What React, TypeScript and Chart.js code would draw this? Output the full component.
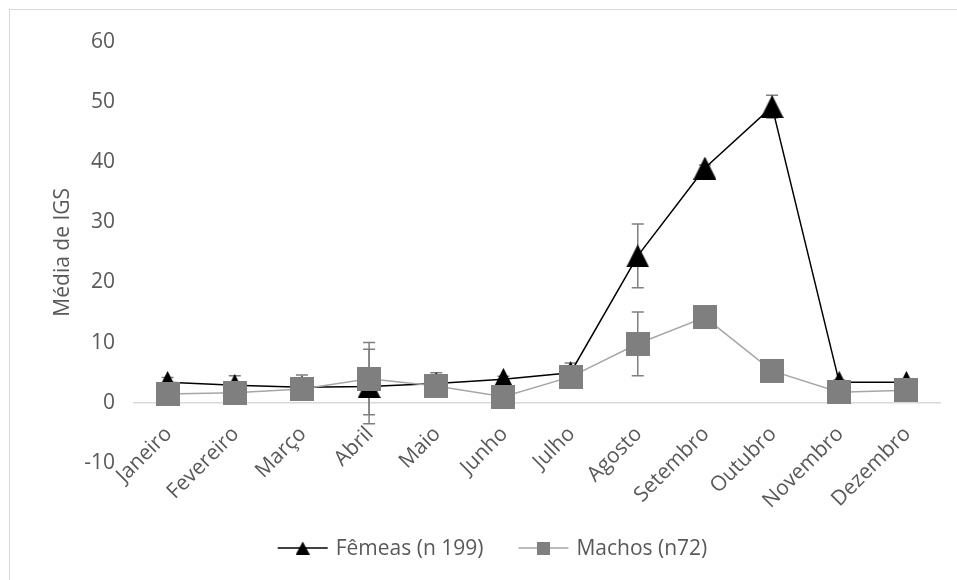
import React, { useEffect, useRef } from 'react';
import { Chart, registerables } from 'chart.js';

Chart.register(...registerables);

const months = ['Janeiro', 'Fevereiro', 'Março', 'Abril', 'Maio', 'Junho', 'Julho', 'Agosto', 'Setembro', 'Outubro', 'Novembro', 'Dezembro'];
const femeas = [3.4, 2.9, 2.6, 2.7, 3.2, 3.9, 5.0, 24.4, 39.0, 49.2, 3.4, 3.4];
const femeasErr = [0.8, 1.6, 2.0, 6.2, 1.8, 0.5, 1.6, 5.3, 0.5, 1.9, 0.4, 0.4];
const machos = [1.45, 1.65, 2.3, 4.0, 2.8, 1.0, 4.3, 9.8, 14.2, 5.3, 1.75, 2.1];
const machosErr = [0.5, 0.5, 0.5, 6.0, 0.5, 0.3, 0.5, 5.3, 0.5, 1.8, 0.3, 0.3];
const femeasLabel = 'Fêmeas (n 199)';
const machosLabel = 'Machos (n72)';
const yTitle = 'Média de IGS';
const yMin = -10;
const yMax = 60;
const yStep = 10;

const FONT = '"Open Sans", sans-serif';
const TEXT = '#595959';

function makeTriangle(w: number, h: number, color: string) {
  const c = document.createElement('canvas');
  c.width = w;
  c.height = h;
  const ctx = c.getContext('2d')!;
  ctx.fillStyle = color;
  ctx.beginPath();
  ctx.moveTo(w / 2, 0);
  ctx.lineTo(w, h);
  ctx.lineTo(0, h);
  ctx.closePath();
  ctx.fill();
  return c;
}

function makeSquare(s: number, color: string) {
  const c = document.createElement('canvas');
  c.width = s;
  c.height = s;
  const ctx = c.getContext('2d')!;
  ctx.fillStyle = color;
  ctx.fillRect(0, 0, s, s);
  return c;
}

export default function App() {
  const ref = useRef<HTMLCanvasElement>(null);

  useEffect(() => {
    document.body.style.overflow = 'hidden';
    const canvas = ref.current!;
    const tri = makeTriangle(23, 23, '#000000');
    const sq = makeSquare(24, '#7f7f7f');
    const triSmall = makeTriangle(14, 13, '#000000');
    const sqSmall = makeSquare(13, '#7f7f7f');

    const errorBars = {
      id: 'errorBars',
      beforeDatasetsDraw(chart: any) {
        const ctx = chart.ctx;
        const xs = chart.scales.x;
        const ys = chart.scales.y;
        ctx.save();
        ctx.strokeStyle = '#7f7f7f';
        ctx.lineWidth = 1.5;
        const sets: [number[], number[]][] = [[femeas, femeasErr], [machos, machosErr]];
        sets.forEach(([vals, errs]) => {
          vals.forEach((v, i) => {
            const px = xs.getPixelForValue(i);
            const top = ys.getPixelForValue(v + errs[i]);
            const bot = ys.getPixelForValue(v - errs[i]);
            ctx.beginPath();
            ctx.moveTo(px, top);
            ctx.lineTo(px, bot);
            ctx.moveTo(px - 6, top);
            ctx.lineTo(px + 6, top);
            ctx.moveTo(px - 6, bot);
            ctx.lineTo(px + 6, bot);
            ctx.stroke();
          });
        });
        ctx.restore();
      },
    };

    const customLegend = {
      id: 'customLegend',
      afterDraw(chart: any) {
        const ctx = chart.ctx;
        ctx.save();
        ctx.font = '21px ' + FONT;
        ctx.textBaseline = 'middle';
        ctx.textAlign = 'left';
        const items = [
          { text: femeasLabel, color: '#000000', img: triSmall },
          { text: machosLabel, color: '#a6a6a6', img: sqSmall },
        ];
        const lineW = 50;
        const gapText = 8;
        const gapItems = 35;
        const widths = items.map((it) => ctx.measureText(it.text).width);
        const total = items.reduce((s, it, i) => s + lineW + gapText + widths[i], 0) + gapItems;
        let x = chart.width / 2 + 9 - total / 2;
        const cy = 538;
        items.forEach((it, i) => {
          ctx.strokeStyle = it.color;
          ctx.lineWidth = 1.5;
          ctx.beginPath();
          ctx.moveTo(x, cy);
          ctx.lineTo(x + lineW, cy);
          ctx.stroke();
          ctx.drawImage(it.img, x + lineW / 2 - it.img.width / 2, cy - it.img.height / 2);
          ctx.fillStyle = TEXT;
          ctx.fillText(it.text, x + lineW + gapText, cy + 1);
          x += lineW + gapText + widths[i] + gapItems;
        });
        ctx.restore();
      },
    };

    const chart = new Chart(canvas, {
      type: 'line',
      data: {
        labels: months,
        datasets: [
          {
            label: femeasLabel,
            data: femeas,
            borderColor: '#000000',
            backgroundColor: '#000000',
            borderWidth: 1.5,
            pointStyle: tri as any,
            pointRadius: 12,
            tension: 0,
            order: 1,
          },
          {
            label: machosLabel,
            data: machos,
            borderColor: '#a6a6a6',
            backgroundColor: '#7f7f7f',
            borderWidth: 1.5,
            pointStyle: sq as any,
            pointRadius: 12,
            tension: 0,
            order: 0,
          },
        ],
      },
      options: {
        responsive: false,
        maintainAspectRatio: false,
        animation: false,
        events: [],
        layout: { padding: { left: 0, right: 17, top: 28, bottom: 117 } },
        plugins: {
          legend: { display: false },
          tooltip: { enabled: false },
        },
        scales: {
          x: {
            position: { y: 0 } as any,
            offset: true,
            grid: { display: false, drawTicks: false },
            border: { display: true, color: '#d9d9d9', width: 1.5 },
            ticks: {
              autoSkip: false,
              maxRotation: 45,
              minRotation: 45,
              padding: 19,
              labelOffset: 1,
              color: TEXT,
              font: { family: FONT, size: 21 },
            },
          },
          y: {
            min: yMin,
            max: yMax,
            grid: { display: false, drawTicks: false },
            border: { display: false },
            afterFit(scale: any) {
              scale.width = 124;
            },
            ticks: {
              stepSize: yStep,
              padding: 19,
              color: TEXT,
              font: { family: FONT, size: 21 },
            },
            title: {
              display: true,
              text: yTitle,
              color: TEXT,
              font: { family: FONT, size: 21 },
              padding: { top: 40, bottom: 0 },
            },
          },
        },
      },
      plugins: [errorBars, customLegend],
    });
    return () => chart.destroy();
  }, []);

  return (
    <div
      style={{
        position: 'absolute',
        left: 9,
        top: 9,
        width: 948,
        height: 571,
        borderLeft: '1px solid #d9d9d9',
        borderTop: '1px solid #d9d9d9',
      }}
    >
      <canvas ref={ref} width={947} height={570} style={{ display: 'block' }} />
    </div>
  );
}
